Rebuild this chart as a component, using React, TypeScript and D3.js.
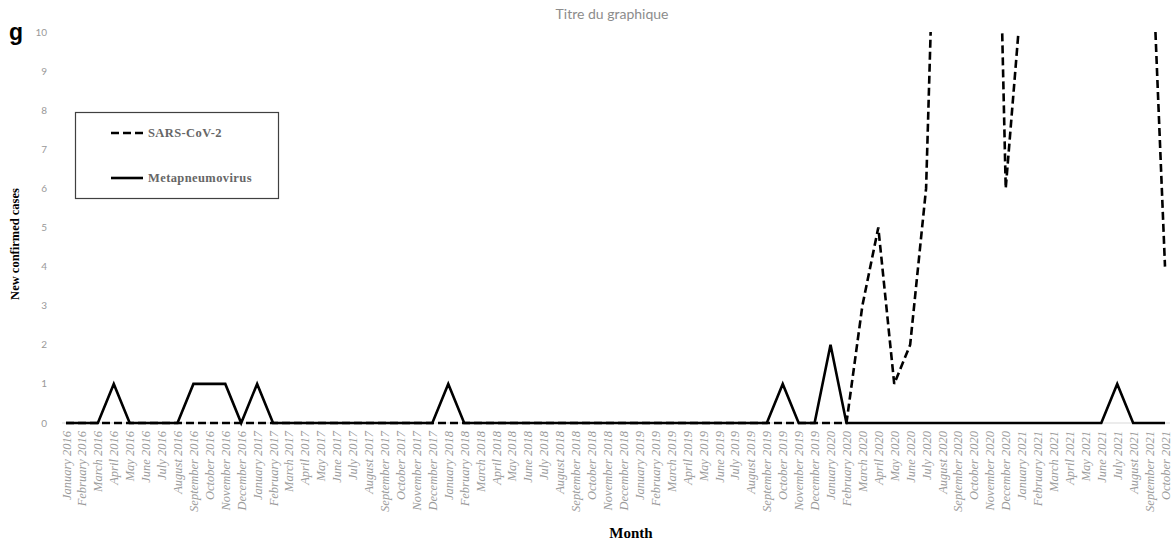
import React from "react";
import * as d3 from "d3";

const MONTH_NAMES = ["January","February","March","April","May","June","July","August","September","October","November","December"];
const YEARS = [2016, 2017, 2018, 2019, 2020, 2021];
const LAST_MONTH_2021 = 10; // data ends October 2021

const MONTHS: string[] = [];
YEARS.forEach((y) => {
  const n = y === 2021 ? LAST_MONTH_2021 : 12;
  for (let m = 0; m < n; m++) MONTHS.push(`${MONTH_NAMES[m]} ${y}`);
});

const META_2016 = [0,0,0,1,0,0,0,0,1,1,1,0];
const META_2017 = [1,0,0,0,0,0,0,0,0,0,0,0];
const META_2018 = [1,0,0,0,0,0,0,0,0,0,0,0];
const META_2019 = [0,0,0,0,0,0,0,0,0,1,0,0];
const META_2020 = [2,0,0,0,0,0,0,0,0,0,0,0];
const META_2021 = [0,0,0,0,0,0,1,0,0,0];
const METAPNEUMOVIRUS = [...META_2016, ...META_2017, ...META_2018, ...META_2019, ...META_2020, ...META_2021];

const SARS_2016 = [0,0,0,0,0,0,0,0,0,0,0,0];
const SARS_2017 = [0,0,0,0,0,0,0,0,0,0,0,0];
const SARS_2018 = [0,0,0,0,0,0,0,0,0,0,0,0];
const SARS_2019 = [0,0,0,0,0,0,0,0,0,0,0,0];
const SARS_2020 = [0,0,3,5,1,2,6,20,30,38,24,6];
const SARS_2021 = [11,18,25,30,28,22,20,18,14,4];
const SARS_COV_2 = [...SARS_2016, ...SARS_2017, ...SARS_2018, ...SARS_2019, ...SARS_2020, ...SARS_2021];

const Y_TICKS = [0,1,2,3,4,5,6,7,8,9,10];

const W = 1175, H = 543;

export default function App() {
  const x = d3.scalePoint<string>().domain(MONTHS).range([66, 1165]);
  const y = d3.scaleLinear().domain([0, 10]).range([423, 32]);

  const line = d3.line<number>()
    .x((_, i) => x(MONTHS[i]) as number)
    .y((d) => y(d));

  const serif = "'Liberation Serif', 'Times New Roman', serif";
  const sans = "Lato, 'Open Sans', sans-serif";

  return (
    <svg width={W} height={H} style={{ position: "absolute", left: 0, top: 0, background: "#fff" }}>
      <defs>
        <clipPath id="plotClip">
          <rect x={0} y={y(10)} width={W} height={H - y(10)} />
        </clipPath>
      </defs>
      <text x={9} y={40} fontFamily="'Liberation Sans', Arial, sans-serif" fontWeight="bold" fontSize={23} fill="#000">g</text>
      <text x={612} y={19} textAnchor="middle" fontFamily={sans} fontSize={14} fill="#8c8c8c">Titre du graphique</text>

      {Y_TICKS.map((t) => (
        <text key={t} x={47} y={y(t) + 3.5} textAnchor="end" fontFamily={sans} fontSize={10} fill="#999">{t}</text>
      ))}

      <line x1={62} x2={1170} y1={y(0)} y2={y(0)} stroke="#d9d9d9" strokeWidth={1} />

      {MONTHS.map((m) => (
        <text key={m} transform={`translate(${(x(m) as number) + 4.5},431) rotate(-90)`} textAnchor="end"
          fontFamily={serif} fontStyle="italic" fontSize={12.5} fill="#9a9a9a">{m}</text>
      ))}

      <g clipPath="url(#plotClip)">
        <path d={line(SARS_COV_2) || ""} fill="none" stroke="#000" strokeWidth={2.6} strokeDasharray="8,4" />
        <path d={line(METAPNEUMOVIRUS) || ""} fill="none" stroke="#000" strokeWidth={2.6} />
      </g>

      <text transform="translate(19,244) rotate(-90)" textAnchor="middle" fontFamily={serif} fontWeight="bold" fontSize={12.5} fill="#000">New confirmed cases</text>
      <text x={631} y={538} textAnchor="middle" fontFamily={serif} fontWeight="bold" fontSize={15} fill="#000">Month</text>

      <rect x={75.5} y={112.5} width={203} height={86} fill="#fff" stroke="#404040" strokeWidth={1.2} />
      <line x1={111} x2={143} y1={133} y2={133} stroke="#000" strokeWidth={2.6} strokeDasharray="8,4" />
      <text x={148} y={137} fontFamily={serif} fontWeight="bold" fontSize={12.5} letterSpacing={0.4} fill="#666">SARS-CoV-2</text>
      <line x1={111} x2={143} y1={178} y2={178} stroke="#000" strokeWidth={2.6} />
      <text x={148} y={182} fontFamily={serif} fontWeight="bold" fontSize={12.5} letterSpacing={0.4} fill="#666">Metapneumovirus</text>
    </svg>
  );
}
